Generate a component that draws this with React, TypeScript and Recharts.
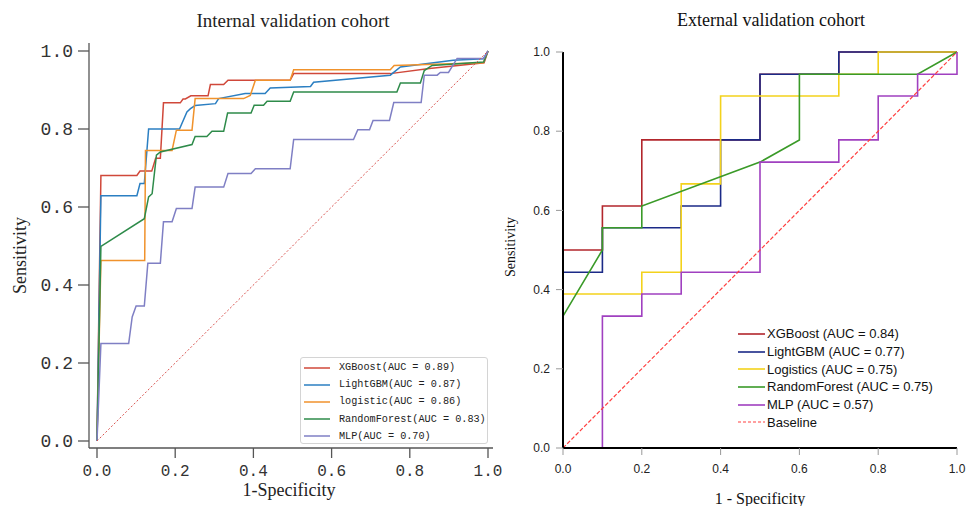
import React from "react";
import { LineChart, Line, XAxis, YAxis, Legend } from "recharts";

// ---- internal validation cohort: [fpr, tpr] ----
const xgbInternal: [number, number][] = [
  [0, 0], [0.005, 0.35], [0.01, 0.681], [0.102, 0.681], [0.11, 0.692], [0.14, 0.692],
  [0.15, 0.725], [0.162, 0.725], [0.17, 0.867], [0.213, 0.867], [0.22, 0.877],
  [0.226, 0.877], [0.24, 0.885], [0.284, 0.885], [0.29, 0.914], [0.324, 0.914],
  [0.335, 0.925], [0.494, 0.925], [0.503, 0.942], [0.75, 0.942], [0.85, 0.955],
  [0.99, 0.97], [1, 1],
];
const lgbInternal: [number, number][] = [
  [0, 0], [0.01, 0.629], [0.102, 0.629], [0.11, 0.66], [0.121, 0.66], [0.132, 0.8],
  [0.211, 0.8], [0.23, 0.844], [0.239, 0.852], [0.251, 0.86], [0.303, 0.865],
  [0.311, 0.878], [0.379, 0.891], [0.43, 0.891], [0.443, 0.905], [0.546, 0.909],
  [0.554, 0.92], [0.75, 0.938], [0.776, 0.959], [0.911, 0.976], [0.988, 0.98], [1, 1],
];
const logInternal: [number, number][] = [
  [0, 0], [0.01, 0.463], [0.122, 0.463], [0.124, 0.745], [0.192, 0.745], [0.203, 0.797],
  [0.243, 0.797], [0.251, 0.878], [0.375, 0.878], [0.392, 0.886], [0.405, 0.925],
  [0.494, 0.925], [0.503, 0.952], [0.75, 0.952], [0.76, 0.963], [0.988, 0.97], [1, 1],
];
const rfInternal: [number, number][] = [
  [0, 0], [0.01, 0.499], [0.121, 0.57], [0.132, 0.626], [0.141, 0.634], [0.152, 0.733],
  [0.162, 0.741], [0.243, 0.76], [0.251, 0.781], [0.281, 0.781], [0.294, 0.794],
  [0.324, 0.794], [0.334, 0.841], [0.394, 0.841], [0.402, 0.861], [0.426, 0.861],
  [0.435, 0.871], [0.494, 0.871], [0.503, 0.895], [0.767, 0.895], [0.776, 0.918],
  [0.827, 0.918], [0.837, 0.95], [0.857, 0.963], [0.989, 0.972], [1, 1],
];
const mlpInternal: [number, number][] = [
  [0, 0], [0.004, 0.1], [0.01, 0.25], [0.081, 0.25], [0.09, 0.318], [0.1, 0.346],
  [0.121, 0.346], [0.13, 0.456], [0.162, 0.456], [0.17, 0.562], [0.192, 0.562],
  [0.203, 0.596], [0.243, 0.596], [0.251, 0.651], [0.324, 0.651], [0.335, 0.686],
  [0.394, 0.686], [0.405, 0.698], [0.494, 0.698], [0.503, 0.773], [0.656, 0.773],
  [0.667, 0.798], [0.697, 0.798], [0.706, 0.822], [0.748, 0.822], [0.759, 0.868],
  [0.829, 0.868], [0.837, 0.938], [0.87, 0.938], [0.878, 0.945], [0.899, 0.945],
  [0.921, 0.981], [0.989, 0.981], [1, 1],
];

// ---- external validation cohort: [fpr, tpr] ----
const xgbExternal: [number, number][] = [
  [0, 0], [0, 0.5], [0.1, 0.5], [0.1, 0.611], [0.2, 0.611], [0.2, 0.778], [0.5, 0.778],
  [0.5, 0.944], [0.7, 0.944], [0.7, 1], [1, 1],
];
const lgbExternal: [number, number][] = [
  [0, 0], [0, 0.444], [0.1, 0.444], [0.1, 0.556], [0.3, 0.556], [0.3, 0.611], [0.4, 0.611],
  [0.4, 0.778], [0.5, 0.778], [0.5, 0.944], [0.7, 0.944], [0.7, 1], [1, 1],
];
const logExternal: [number, number][] = [
  [0, 0], [0, 0.389], [0.2, 0.389], [0.2, 0.444], [0.3, 0.444], [0.3, 0.667], [0.4, 0.667],
  [0.4, 0.889], [0.7, 0.889], [0.7, 0.944], [0.8, 0.944], [0.8, 1], [1, 1],
];
const rfExternal: [number, number][] = [
  [0, 0], [0, 0.333], [0.1, 0.5], [0.1, 0.556], [0.2, 0.556], [0.2, 0.611], [0.5, 0.722],
  [0.6, 0.778], [0.6, 0.944], [0.9, 0.944], [1, 1],
];
const mlpExternal: [number, number][] = [
  [0, 0], [0.1, 0], [0.1, 0.333], [0.2, 0.333], [0.2, 0.389], [0.3, 0.389], [0.3, 0.444],
  [0.5, 0.444], [0.5, 0.722], [0.7, 0.722], [0.7, 0.778], [0.8, 0.778], [0.8, 0.889],
  [0.9, 0.889], [0.9, 0.944], [1, 0.944], [1, 1],
];
const baseline: [number, number][] = [[0, 0], [1, 1]];

const axisTicks = [0, 0.2, 0.4, 0.6, 0.8, 1.0];

const toRows = (pts: [number, number][]) => pts.map(([fpr, tpr]) => ({ fpr, tpr }));

const internalSeries = [
  { name: "XGBoost(AUC = 0.89)", color: "#d0483a", data: xgbInternal },
  { name: "LightGBM(AUC = 0.87)", color: "#2b7fc2", data: lgbInternal },
  { name: "logistic(AUC = 0.86)", color: "#f0922c", data: logInternal },
  { name: "RandomForest(AUC = 0.83)", color: "#2e8b4a", data: rfInternal },
  { name: "MLP(AUC = 0.70)", color: "#7f7fc4", data: mlpInternal },
];

const externalSeries = [
  { name: "XGBoost (AUC = 0.84)", color: "#b2262c", data: xgbExternal },
  { name: "LightGBM (AUC = 0.77)", color: "#1b2a87", data: lgbExternal },
  { name: "Logistics (AUC = 0.75)", color: "#f3d21c", data: logExternal },
  { name: "RandomForest (AUC = 0.75)", color: "#3a9a28", data: rfExternal },
  { name: "MLP (AUC = 0.57)", color: "#a040c0", data: mlpExternal },
];

const monoFont = "'Liberation Mono', 'DejaVu Sans Mono', monospace";
const serifFont = "'Liberation Serif', 'Times New Roman', serif";
const sansFont = "'Liberation Sans', Arial, sans-serif";

const InternalLegend = () => (
  <div
    style={{
      border: "1px solid #d4d4d4",
      borderRadius: 3,
      background: "rgba(255,255,255,0.85)",
      paddingTop: 1,
      width: 188,
      height: 87,
      boxSizing: "border-box",
    }}
  >
    {internalSeries.map((s) => (
      <div key={s.name} style={{ display: "flex", alignItems: "center", height: 17.2 }}>
        <svg width={30} height={4} style={{ marginLeft: 3 }}>
          <line x1={0} y1={2} x2={26} y2={2} stroke={s.color} strokeWidth={1.5} />
        </svg>
        <span style={{ marginLeft: 5, fontFamily: monoFont, fontSize: 10.2, color: "#222", whiteSpace: "nowrap" }}>
          {s.name}
        </span>
      </div>
    ))}
  </div>
);

const ExternalLegend = () => {
  const items = [
    ...externalSeries.map((s) => ({ name: s.name, color: s.color, dash: false })),
    { name: "Baseline", color: "#ff4040", dash: true },
  ];
  return (
    <div style={{ width: 220 }}>
      {items.map((s) => (
        <div key={s.name} style={{ display: "flex", alignItems: "center", height: 17.7 }}>
          <svg width={28} height={4}>
            <line
              x1={0}
              y1={2}
              x2={27}
              y2={2}
              stroke={s.color}
              strokeWidth={s.dash ? 1.2 : 1.6}
              strokeDasharray={s.dash ? "3 2" : undefined}
            />
          </svg>
          <span style={{ marginLeft: 1, fontFamily: sansFont, fontSize: 13, color: "#111", whiteSpace: "nowrap" }}>
            {s.name}
          </span>
        </div>
      ))}
    </div>
  );
};

function InternalChart() {
  const axisStroke = { stroke: "#555", strokeWidth: 1.3 };
  return (
    <LineChart width={520} height={506} margin={{ top: 43, right: 27, left: 29, bottom: 0 }}>
      <XAxis
        dataKey="fpr"
        type="number"
        domain={[0, 1]}
        ticks={axisTicks}
        padding={{ left: 8, right: 5 }}
        height={58}
        axisLine={axisStroke}
        tickLine={axisStroke}
        tickSize={10}
        tickMargin={7}
        tick={{ fontFamily: monoFont, fontSize: 16, fill: "#333" }}
        tickFormatter={(v: number) => v.toFixed(1)}
        label={{ value: "1-Specificity", position: "insideBottom", offset: 10, dx: -2, style: { fontFamily: serifFont, fontSize: 18, fill: "#222" } }}
      />
      <YAxis
        type="number"
        domain={[0, 1]}
        ticks={axisTicks}
        padding={{ top: 8, bottom: 7 }}
        width={60}
        axisLine={axisStroke}
        tickLine={axisStroke}
        tickSize={11}
        tickMargin={5}
        tick={{ fontFamily: monoFont, fontSize: 18, fill: "#333" }}
        tickFormatter={(v: number) => v.toFixed(1)}
        label={{ value: "Sensitivity", angle: -90, position: "insideLeft", offset: -9, dy: 10, style: { textAnchor: "middle", fontFamily: serifFont, fontSize: 18, fill: "#222" } }}
      />
      {internalSeries.map((s) => (
        <Line
          key={s.name}
          data={toRows(s.data)}
          dataKey="tpr"
          type="linear"
          stroke={s.color}
          strokeWidth={1.5}
          dot={false}
          activeDot={false}
          isAnimationActive={false}
        />
      ))}
      <Line
        data={toRows(baseline)}
        dataKey="tpr"
        type="linear"
        stroke="#d9534f"
        strokeWidth={1}
        strokeDasharray="2 2"
        dot={false}
        activeDot={false}
        isAnimationActive={false}
      />
      <Legend
        layout="vertical"
        align="center"
        verticalAlign="middle"
        content={() => <InternalLegend />}
        wrapperStyle={{ left: 300, top: 357, width: 188, height: 87 }}
      />
    </LineChart>
  );
}

function ExternalChart() {
  const spine = { stroke: "#000", strokeWidth: 2 };
  const tickMark = { stroke: "#999", strokeWidth: 1 };
  return (
    <LineChart width={476} height={506} margin={{ top: 52, right: 19, left: 0, bottom: 0 }}>
      <XAxis
        dataKey="fpr"
        type="number"
        domain={[0, 1]}
        ticks={axisTicks}
        height={58}
        axisLine={spine}
        tickLine={tickMark}
        tickSize={7}
        tickMargin={9}
        tick={{ fontFamily: sansFont, fontSize: 12, fill: "#222" }}
        tickFormatter={(v: number) => v.toFixed(1)}
        label={{ value: "1 - Specificity", position: "insideBottom", offset: 2, style: { fontFamily: serifFont, fontSize: 16, fill: "#111" } }}
      />
      <YAxis
        type="number"
        domain={[0, 1]}
        ticks={axisTicks}
        width={63}
        axisLine={spine}
        tickLine={tickMark}
        tickSize={7}
        tickMargin={6}
        tick={{ fontFamily: sansFont, fontSize: 12, fill: "#222" }}
        tickFormatter={(v: number) => v.toFixed(1)}
        label={{ value: "Sensitivity", angle: -90, position: "insideLeft", offset: 10, dy: -3, style: { textAnchor: "middle", fontFamily: serifFont, fontSize: 14, fill: "#111" } }}
      />
      {externalSeries.map((s) => (
        <Line
          key={s.name}
          data={toRows(s.data)}
          dataKey="tpr"
          type="linear"
          stroke={s.color}
          strokeWidth={1.6}
          dot={false}
          activeDot={false}
          isAnimationActive={false}
        />
      ))}
      <Line
        data={toRows(baseline)}
        dataKey="tpr"
        type="linear"
        stroke="#ff4040"
        strokeWidth={1.2}
        strokeDasharray="4 2"
        dot={false}
        activeDot={false}
        isAnimationActive={false}
      />
      <Legend
        layout="vertical"
        align="center"
        verticalAlign="middle"
        content={() => <ExternalLegend />}
        wrapperStyle={{ left: 238, top: 325, width: 220 }}
      />
    </LineChart>
  );
}

export default function App() {
  return (
    <div style={{ position: "absolute", left: 0, top: 0, width: 976, height: 506, background: "#fff", overflow: "hidden" }}>
      <div style={{ position: "absolute", left: 93, top: 11, width: 400, textAlign: "center", fontFamily: serifFont, fontSize: 19, lineHeight: "19px", color: "#222" }}>
        Internal validation cohort
      </div>
      <div style={{ position: "absolute", left: 571, top: 11, width: 400, textAlign: "center", fontFamily: serifFont, fontSize: 18, lineHeight: "19px", color: "#111" }}>
        External validation cohort
      </div>
      <div style={{ position: "absolute", left: 0, top: 0 }}>
        <InternalChart />
      </div>
      <div style={{ position: "absolute", left: 500, top: 0 }}>
        <ExternalChart />
      </div>
    </div>
  );
}
